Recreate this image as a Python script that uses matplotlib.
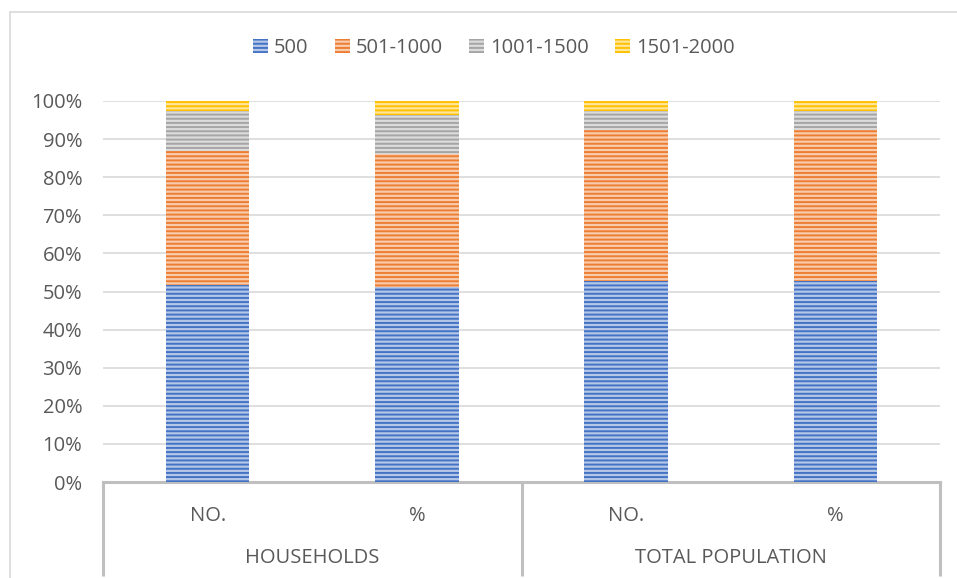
import matplotlib.pyplot as plt
from matplotlib.patches import Patch, Rectangle
from matplotlib.transforms import blended_transform_factory
import numpy as np

plt.rcParams['font.family'] = ['Open Sans', 'DejaVu Sans']
plt.rcParams['hatch.linewidth'] = 1.4

# Share of each income band (%) per column
sub_labels = ['NO.', '%', 'NO.', '%']
group_labels = ['HOUSEHOLDS', 'TOTAL POPULATION']
bands = ['500', '501-1000', '1001-1500', '1501-2000']
band_500 = [51.7, 51.1, 52.8, 52.8]
band_501_1000 = [35.2, 34.9, 39.6, 39.6]
band_1001_1500 = [10.5, 10.3, 5.0, 5.0]
band_1501_2000 = [2.6, 3.7, 2.6, 2.6]

line_colors = ['#4472C4', '#ED7D31', '#A5A5A5', '#FFC000']
fill_colors = ['#B4C7E7', '#F8CBAD', '#DBDBDB', '#FFE699']
text_col = '#595959'
axis_col = '#BFBFBF'
fs = 14.5

fig = plt.figure(figsize=(9.57, 5.78), dpi=100)
W, H = 957, 578
ax = fig.add_axes([103 / W, 1 - 482 / H, (940 - 103) / W, (482 - 101) / H])

x = np.arange(len(sub_labels))
series = [band_500, band_501_1000, band_1001_1500, band_1501_2000]
bottom = np.zeros(len(x))
for vals, lc, fc in zip(series, line_colors, fill_colors):
    v = np.array(vals) / 100
    ax.bar(x, v, 0.4, bottom=bottom, color=fc, edgecolor=lc,
           hatch='----', linewidth=0, zorder=3)
    bottom += v

ax.set_xlim(-0.5, 3.5)
ax.set_ylim(0, 1)
ax.set_yticks(np.arange(0, 1.01, 0.1))
ax.set_yticklabels([f'{int(round(t * 100))}%' for t in np.arange(0, 1.01, 0.1)])
ax.grid(axis='y', color='#D9D9D9', linewidth=1.2, zorder=0)
ax.tick_params(axis='y', length=0, pad=15, labelsize=fs, labelcolor=text_col)
ax.tick_params(axis='x', length=0, pad=17, labelsize=fs, labelcolor=text_col)
ax.set_xticks(x)
ax.set_xticklabels(sub_labels)
for s in ['left', 'top', 'right']:
    ax.spines[s].set_visible(False)
ax.spines['bottom'].set_color(axis_col)
ax.spines['bottom'].set_linewidth(2.2)

# group separators and group labels under the category axis
tr = blended_transform_factory(ax.transData, ax.transAxes)
depth = (576 - 482) / (482 - 101)
for xv in [-0.5, 1.5, 3.5]:
    ax.plot([xv, xv], [0, -depth], transform=tr, color=axis_col,
            linewidth=2.2, clip_on=False, solid_capstyle='butt')
for i, g in enumerate(group_labels):
    ax.text(0.5 + 2 * i, -(558 - 482) / (482 - 101), g, transform=tr,
            ha='center', va='center', fontsize=fs, color=text_col)

# legend
handles = [Patch(facecolor=fc, edgecolor=lc, hatch='----', linewidth=0)
           for lc, fc in zip(line_colors, fill_colors)]
fig.legend(handles, bands, loc='center', bbox_to_anchor=(494 / W, 1 - 48 / H),
           ncol=4, frameon=False, fontsize=fs, labelcolor=text_col,
           handlelength=0.75, handleheight=0.75, handletextpad=0.3,
           columnspacing=1.3)

# chart area border
fig.patches.append(Rectangle((10 / W, -0.1), 1.5, 1.1 - 12 / H,
                             transform=fig.transFigure, fill=False,
                             edgecolor='#D9D9D9', linewidth=1.2))

fig.savefig('out.png', dpi=100)
